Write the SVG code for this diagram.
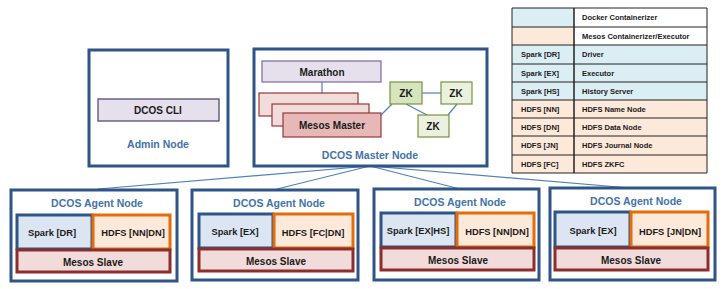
<svg xmlns="http://www.w3.org/2000/svg" width="728" height="289" viewBox="0 0 728 289">
  <style>
    text { font-family: "Liberation Sans", Arial, sans-serif; font-weight: bold; text-anchor: middle; dominant-baseline: central; fill: #1a1a1a; }
    .node { fill: #ffffff; stroke: #2f5487; stroke-width: 3; }
    .title { fill: #4472a8; font-size: 10.5px; }
    .lbl { font-size: 10px; }
    .sm { font-size: 9.3px; }
    .cli { fill: #e6e0ec; stroke: #4a3f6b; stroke-width: 1.2; }
    .marathon { fill: #e6e0ec; stroke: #7a6a9a; stroke-width: 1.2; }
    .mm { fill: #f2dcdb; stroke: #953735; stroke-width: 1.2; }
    .mm-top { fill: #e6b9b8; stroke: #953735; stroke-width: 1.2; }
    .zk { fill: #ebf1de; stroke: #77933c; stroke-width: 1.2; }
    .zk-lead { fill: #d7e4bd; stroke: #77933c; stroke-width: 1.2; }
    .link { stroke: #4f81bd; stroke-width: 1.2; fill: none; }
    .spark { fill: #dce6f2; stroke: #2f5487; stroke-width: 3; }
    .hdfs { fill: #fde9d9; stroke: #e46c0a; stroke-width: 3; }
    .slave { fill: #f2dcdb; stroke: #8b2f2d; stroke-width: 3; }
    .blue { fill: #dbeef4; }
    .peach { fill: #fde9d9; }
    .grid { stroke: #222; stroke-width: 1; fill: none; }
    .lg { font-size: 7.5px; text-anchor: start; }
  </style>

  <!-- connectors from the master to each agent -->
  <g id="connectors">
    <line class="link" x1="370" y1="166" x2="98" y2="189"/>
    <line class="link" x1="370" y1="166" x2="277" y2="189"/>
    <line class="link" x1="370" y1="166" x2="460" y2="189"/>
    <line class="link" x1="370" y1="166" x2="630" y2="188"/>
  </g>

  <!-- admin node -->
  <g id="admin-node">
    <rect class="node" x="89" y="50" width="139" height="116"/>
    <rect class="cli" x="98" y="99" width="121" height="22"/>
    <text class="lbl" x="158" y="110">DCOS CLI</text>
    <text class="title" x="158" y="144">Admin Node</text>
  </g>

  <!-- master node -->
  <g id="master-node">
    <rect class="node" x="254" y="49" width="233" height="117"/>
    <rect class="marathon" x="262" y="61" width="119" height="21"/>
    <text class="lbl" x="322" y="72">Marathon</text>
    <line class="link" x1="322" y1="82" x2="322" y2="93"/>
    <rect class="mm" x="259" y="93" width="99" height="23"/>
    <rect class="mm" x="272" y="104" width="97" height="22"/>
    <rect class="mm-top" x="283" y="113" width="98" height="24"/>
    <text class="lbl" x="332" y="125">Mesos Master</text>
    <line class="link" x1="422" y1="93" x2="441" y2="93"/>
    <line class="link" x1="406" y1="104" x2="427" y2="115"/>
    <line class="link" x1="457" y1="104" x2="448" y2="115"/>
    <line class="link" x1="392" y1="104" x2="381" y2="115"/>
    <rect class="zk-lead" x="390" y="82" width="32" height="22"/>
    <text class="lbl" x="406" y="93">ZK</text>
    <rect class="zk" x="441" y="82" width="31" height="22"/>
    <text class="lbl" x="456" y="93">ZK</text>
    <rect class="zk" x="418" y="115" width="31" height="22"/>
    <text class="lbl" x="433" y="126">ZK</text>
    <text class="title" x="370" y="155">DCOS Master Node</text>
  </g>

  <!-- agent nodes -->
  <g id="agent-1">
    <rect class="node" x="11" y="190" width="166" height="91"/>
    <text class="title" x="97" y="203">DCOS Agent Node</text>
    <rect class="spark" x="17" y="215" width="75" height="34"/>
    <text class="sm" x="52" y="233">Spark [DR]</text>
    <rect class="hdfs" x="93" y="215" width="77" height="34"/>
    <text class="sm" x="133" y="233">HDFS [NN|DN]</text>
    <rect class="slave" x="17" y="250" width="153" height="22"/>
    <text class="lbl" x="93" y="262">Mesos Slave</text>
  </g>

  <g id="agent-2">
    <rect class="node" x="192" y="190" width="166" height="90"/>
    <text class="title" x="279" y="203">DCOS Agent Node</text>
    <rect class="spark" x="199" y="214" width="74" height="34"/>
    <text class="sm" x="235" y="232">Spark [EX]</text>
    <rect class="hdfs" x="274" y="214" width="79" height="34"/>
    <text class="sm" x="313" y="233">HDFS [FC|DN]</text>
    <rect class="slave" x="199" y="249" width="154" height="22"/>
    <text class="lbl" x="276" y="261">Mesos Slave</text>
  </g>

  <g id="agent-3">
    <rect class="node" x="374" y="189" width="165" height="91"/>
    <text class="title" x="460" y="202">DCOS Agent Node</text>
    <rect class="spark" x="381" y="213" width="75" height="34"/>
    <text class="sm" x="418" y="231">Spark [EX|HS]</text>
    <rect class="hdfs" x="457" y="213" width="77" height="34"/>
    <text class="sm" x="497" y="232">HDFS [NN|DN]</text>
    <rect class="slave" x="381" y="248" width="153" height="22"/>
    <text class="lbl" x="458" y="260">Mesos Slave</text>
  </g>

  <g id="agent-4">
    <rect class="node" x="550" y="188" width="165" height="92"/>
    <text class="title" x="636" y="201">DCOS Agent Node</text>
    <rect class="spark" x="555" y="212" width="75" height="35"/>
    <text class="sm" x="593" y="231">Spark [EX]</text>
    <rect class="hdfs" x="631" y="212" width="77" height="35"/>
    <text class="sm" x="670" y="232">HDFS [JN|DN]</text>
    <rect class="slave" x="555" y="248" width="153" height="22"/>
    <text class="lbl" x="631" y="260">Mesos Slave</text>
  </g>

  <!-- legend table -->
  <g id="legend">
    <rect class="blue" x="512" y="8" width="62" height="19"/>
    <rect class="peach" x="512" y="27" width="62" height="18"/>
    <rect class="blue" x="512" y="45" width="195" height="55"/>
    <rect class="peach" x="512" y="100" width="195" height="73"/>
    <path class="grid" d="M512 8H707M512 27H707M512 45H707M512 64H707M512 82H707M512 100H707M512 118H707M512 136H707M512 155H707M512 173H707"/>
    <path class="grid" d="M512 8V173M707 8V173"/>
    <line x1="574" y1="8" x2="574" y2="173" stroke="#222" stroke-width="1.5"/>
    <text class="lg" x="582" y="17.5">Docker Containerizer</text>
    <text class="lg" x="582" y="36">Mesos Containerizer/Executor</text>
    <text class="lg" x="521" y="54.5">Spark [DR]</text>
    <text class="lg" x="582" y="54.5">Driver</text>
    <text class="lg" x="521" y="73">Spark [EX]</text>
    <text class="lg" x="582" y="73">Executor</text>
    <text class="lg" x="521" y="91">Spark [HS]</text>
    <text class="lg" x="582" y="91">History Server</text>
    <text class="lg" x="521" y="109">HDFS [NN]</text>
    <text class="lg" x="582" y="109">HDFS Name Node</text>
    <text class="lg" x="521" y="127">HDFS [DN]</text>
    <text class="lg" x="582" y="127">HDFS Data Node</text>
    <text class="lg" x="521" y="145.5">HDFS [JN]</text>
    <text class="lg" x="582" y="145.5">HDFS Journal Node</text>
    <text class="lg" x="521" y="164">HDFS [FC]</text>
    <text class="lg" x="582" y="164">HDFS ZKFC</text>
  </g>
</svg>
